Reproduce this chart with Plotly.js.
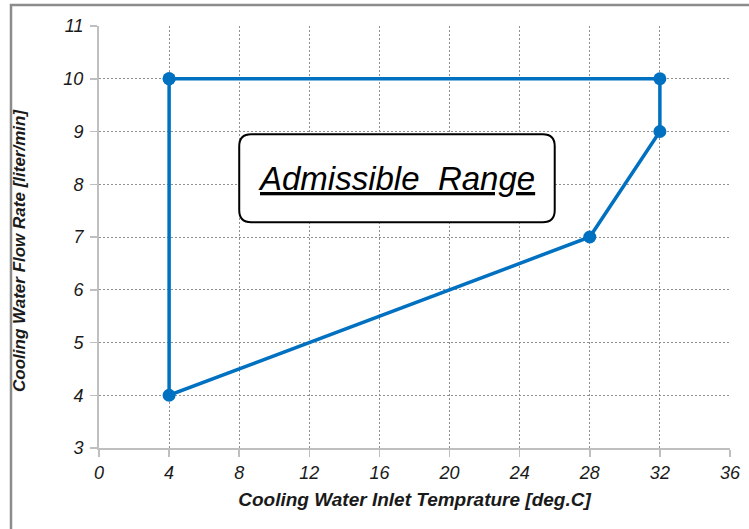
<!DOCTYPE html>
<html>
<head>
<meta charset="utf-8">
<script src="https://cdn.plot.ly/plotly-3.0.1.min.js"></script>
<style>html,body{margin:0;padding:0;background:#fff;}#chart{width:749px;height:529px;}</style>
</head>
<body>
<div id="chart"></div>
<script>
// Data
const inletTemp = [4, 32, 32, 28, 4, 4];
const flowRate = [10, 10, 9, 7, 4, 10];
const xTicks = [0, 4, 8, 12, 16, 20, 24, 28, 32, 36];
const yTicks = [3, 4, 5, 6, 7, 8, 9, 10, 11];
const labelText = "Admissible  Range";
const xTitle = "Cooling Water Inlet Temprature [deg.C]";
const yTitle = "Cooling Water Flow Rate [liter/min]";
const boxX = [8.0, 26.0];
const boxY = [7.28, 8.95];

const L = 99, R = 19, T = 26, B = 81, W = 749, H = 529;
const pw = W - L - R, ph = H - T - B;
const xr = [0, 36], yr = [3, 11];
const xs = pw / (xr[1] - xr[0]), ys = ph / (yr[1] - yr[0]);
const rad = 12;
const rx = rad / xs, ry = rad / ys;
const x0 = boxX[0], x1 = boxX[1], y0 = boxY[0], y1 = boxY[1];
const boxPath = `M ${x0 + rx} ${y1} L ${x1 - rx} ${y1} Q ${x1} ${y1} ${x1} ${y1 - ry} L ${x1} ${y0 + ry} Q ${x1} ${y0} ${x1 - rx} ${y0} L ${x0 + rx} ${y0} Q ${x0} ${y0} ${x0} ${y0 + ry} L ${x0} ${y1 - ry} Q ${x0} ${y1} ${x0 + rx} ${y1} Z`;

const font = "Liberation Sans, Arial, sans-serif";

const trace = {
  x: inletTemp, y: flowRate, type: 'scatter', mode: 'lines+markers',
  line: {color: '#0070C0', width: 3.5},
  marker: {color: '#0070C0', size: 13},
  hoverinfo: 'none'
};

const layout = {
  width: W, height: H,
  margin: {l: L, r: R, t: T, b: B},
  paper_bgcolor: '#fff', plot_bgcolor: '#fff',
  showlegend: false,
  font: {family: font, color: '#1a1a1a'},
  xaxis: {
    range: xr, tickvals: xTicks, ticktext: xTicks.map(String),
    showgrid: true, gridcolor: '#8f8f8f', griddash: '2px,2px', gridwidth: 1,
    showline: true, linecolor: '#bfbfbf', linewidth: 2,
    ticks: 'outside', ticklen: 7, tickcolor: '#bfbfbf', tickwidth: 1.5,
    tickfont: {family: font, size: 18, color: '#1a1a1a', style: 'italic'},
    zeroline: false,
    title: {text: '<b><i>' + xTitle + '</i></b>', font: {family: font, size: 19, color: '#1a1a1a'}, standoff: 11}
  },
  yaxis: {
    range: yr, tickvals: yTicks, ticktext: yTicks.map(String),
    showgrid: true, gridcolor: '#8f8f8f', griddash: '2px,2px', gridwidth: 1,
    showline: true, linecolor: '#bfbfbf', linewidth: 2,
    ticks: 'outside', ticklen: 7, tickcolor: '#bfbfbf', tickwidth: 1.5,
    tickfont: {family: font, size: 18, color: '#1a1a1a', style: 'italic'},
    ticklabelstandoff: 3,
    zeroline: false
  },
  shapes: [
    {type: 'path', xref: 'x', yref: 'y', path: boxPath, line: {color: '#000', width: 2}, fillcolor: '#fff', layer: 'above'},
    {type: 'rect', xref: 'paper', yref: 'paper',
     x0: (11 - L) / pw, x1: (W + 5 - L) / pw, y0: (H - B - (H + 5)) / ph, y1: (H - B - 5) / ph,
     line: {color: '#8c8c8c', width: 2.5}, fillcolor: 'rgba(0,0,0,0)', layer: 'below'}
  ],
  annotations: [
    {x: (x0 + x1) / 2, y: (y0 + y1) / 2, xref: 'x', yref: 'y', showarrow: false,
     text: '<i><span style="text-decoration:underline">' + labelText + '</span></i>',
     font: {family: font, size: 33, color: '#000'}},
    {x: (19 - L) / pw, y: (H - B - 251) / ph, xref: 'paper', yref: 'paper', showarrow: false,
     xanchor: 'center', yanchor: 'middle', textangle: -90,
     text: '<b><i>' + yTitle + '</i></b>',
     font: {family: font, size: 17, color: '#1a1a1a'}}
  ]
};

Plotly.newPlot('chart', [trace], layout, {displayModeBar: false, staticPlot: true});
</script>
</body>
</html>
